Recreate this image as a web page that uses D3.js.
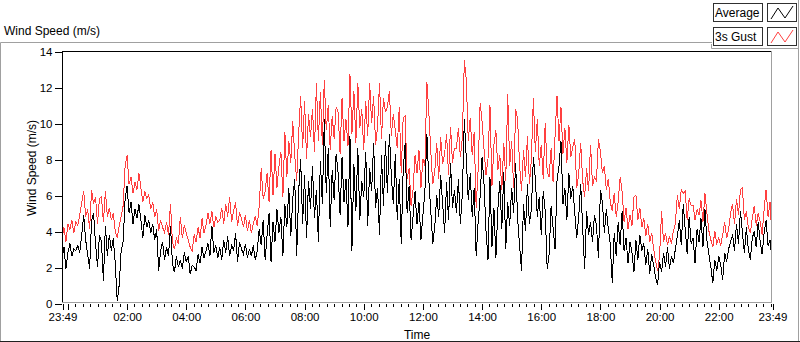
<!DOCTYPE html>
<html>
<head>
<meta charset="utf-8">
<script src="https://cdn.jsdelivr.net/npm/d3@7"></script>
<style>
  body { margin: 0; background: #fff; }
  svg { display: block; font-family: 'Liberation Sans', Arial, sans-serif; }
  .axis text { font-size: 11.5px; fill: #000; }
  .axis line { stroke: #000; shape-rendering: crispEdges; }
  .label { font-size: 12px; fill: #000; }
  .series { fill: none; stroke-width: 1; shape-rendering: crispEdges; }
</style>
</head>
<body>
<script>
// one sample every 4 minutes, starting 23:49
const stepMinutes = 4;

const average = [
  2.4, 3.1, 1.9, 2.8, 3.3, 2.6, 3.0, 2.9, 3.2, 2.8, 3.8, 4.9, 3.5, 2.7, 1.9, 4.6, 5.0, 3.3, 2.0, 3.8,
  3.4, 1.2, 4.3, 2.6, 3.8, 2.9, 3.6, 2.2, 0.1, 1.0, 2.9, 3.4, 5.8, 6.5, 5.0, 5.6, 4.4, 5.2, 4.7, 5.5,
  4.6, 3.6, 4.9, 4.2, 4.6, 3.9, 4.4, 3.5, 4.1, 1.8, 2.9, 3.4, 2.4, 3.1, 2.6, 4.3, 2.2, 1.7, 2.6, 2.0,
  2.4, 1.9, 2.8, 2.3, 2.6, 1.6, 2.1, 2.0, 1.8, 2.7, 2.2, 3.1, 2.5, 2.9, 3.3, 2.6, 4.3, 2.8, 3.2, 2.5,
  3.1, 2.4, 3.5, 2.8, 3.7, 2.6, 3.2, 2.9, 3.9, 2.3, 3.4, 3.0, 2.7, 3.3, 2.5, 3.0, 2.6, 3.2, 2.4, 2.9,
  4.1, 3.2, 4.6, 2.4, 3.8, 5.0, 2.3, 4.5, 3.4, 5.2, 3.9, 4.8, 2.6, 5.5, 4.2, 6.4, 3.7, 5.8, 6.9, 2.6,
  6.2, 8.0, 4.4, 7.1, 3.6, 6.8, 5.2, 7.6, 4.7, 6.3, 3.4, 7.9, 5.5, 10.2, 6.1, 8.6, 4.2, 7.4, 5.7, 8.3,
  7.2, 4.9, 8.1, 5.6, 6.9, 4.2, 9.3, 2.9, 7.7, 5.1, 8.6, 4.6, 6.8, 5.9, 8.4, 4.3, 7.5, 6.2, 8.9, 5.3,
  6.4, 3.8, 8.2, 5.4, 9.0, 6.1, 9.4, 7.0, 5.5, 8.3, 4.6, 6.9, 3.3, 7.4, 8.9, 5.0, 6.5, 3.5, 4.8, 6.2,
  4.4, 5.6, 3.5, 4.9, 6.2, 9.4, 6.8, 5.1, 3.3, 4.2, 6.0, 4.8, 7.1, 5.5, 3.9, 6.7, 4.6, 7.8, 5.3, 6.3,
  5.0, 6.9, 4.4, 6.1, 10.2, 8.0, 5.7, 7.2, 4.8, 6.4, 2.6, 4.5, 5.9, 8.1, 6.6, 4.0, 2.4, 7.0, 3.1, 5.3,
  2.5, 5.2, 6.8, 4.1, 7.3, 3.0, 5.6, 4.3, 6.4, 5.0, 7.8, 4.7, 3.2, 1.8, 5.5, 4.0, 6.6, 4.4, 5.2, 8.1,
  6.9, 4.8, 5.9, 3.8, 6.2, 5.1, 1.9, 2.7, 5.4, 4.2, 3.0, 6.8, 7.6, 9.0, 5.5, 6.4, 4.6, 7.2, 5.8, 6.5,
  5.0, 3.6, 4.8, 6.6, 4.2, 1.9, 5.1, 3.8, 4.5, 3.4, 4.9, 4.3, 2.5, 6.3, 5.6, 3.9, 5.2, 4.1, 3.3, 1.1,
  3.9, 2.6, 4.5, 3.2, 5.1, 2.9, 3.6, 2.2, 3.4, 2.8, 1.7, 3.5, 2.4, 3.8, 2.9, 3.3, 2.1, 3.0, 1.6, 2.7,
  2.1, 1.4, 1.0, 2.3, 1.7, 2.8, 2.0, 3.1, 1.9, 2.6, 2.2, 3.0, 3.7, 4.6, 3.2, 5.5, 4.1, 2.7, 4.8, 3.3,
  3.6, 2.2, 4.1, 3.4, 4.7, 3.1, 5.2, 3.5, 2.7, 2.0, 1.1, 2.4, 1.8, 2.6, 2.1, 1.3, 2.8, 2.3, 3.0, 3.4,
  3.8, 2.9, 4.4, 3.3, 5.1, 3.9, 2.8, 4.2, 3.0, 2.4, 3.6, 4.0, 3.1, 4.5, 3.4, 2.7, 3.9, 4.6, 3.2, 3.5, 2.4
];

const gust = [
  3.6, 4.2, 3.4, 4.4, 4.1, 4.6, 3.9, 4.5, 4.3, 4.9, 5.6, 6.2, 4.8, 5.2, 4.1, 6.3, 5.5, 5.9, 4.4, 5.8,
  5.9, 4.5, 6.2, 4.8, 5.3, 4.6, 5.0, 4.0, 3.6, 4.3, 4.8, 5.4, 7.6, 8.2, 6.6, 7.0, 6.1, 6.7, 6.3, 7.2,
  6.4, 5.6, 6.2, 5.8, 6.0, 5.2, 5.6, 4.8, 5.2, 4.0, 4.6, 4.2, 3.9, 4.5, 3.8, 5.5, 3.4, 3.0, 3.6, 3.3,
  4.8, 3.6, 4.3, 3.9, 3.5, 3.1, 2.9, 3.8, 3.4, 4.2, 3.6, 4.7, 3.9, 4.3, 5.0, 4.4, 5.1, 4.2, 4.8, 4.5,
  4.6, 5.3, 4.4, 5.5, 4.8, 5.9, 4.5, 5.1, 5.6, 4.3, 5.0, 4.7, 4.2, 4.9, 4.0, 4.6, 3.9, 4.4, 4.8, 4.3,
  5.4, 7.5, 5.8, 6.2, 7.2, 5.6, 8.5, 6.0, 8.3, 6.4, 7.6, 8.4, 5.9, 9.5, 7.0, 9.0, 7.8, 10.1, 8.2, 6.8,
  9.4, 11.5, 8.6, 11.2, 8.0, 10.5, 9.2, 10.8, 8.4, 12.2, 9.0, 11.7, 8.8, 12.4, 9.6, 11.0, 8.5, 10.4, 9.1, 10.9,
  10.6, 8.3, 11.4, 9.0, 10.2, 8.7, 12.7, 9.4, 11.8, 8.9, 12.2, 9.7, 10.8, 8.5, 11.2, 9.3, 12.2, 10.0, 11.5, 8.8,
  9.8, 12.2, 9.1, 11.4, 10.6, 10.9, 11.8, 9.3, 10.5, 9.6, 8.6, 10.9, 7.2, 10.3, 10.4, 6.9, 7.5, 5.4, 6.3, 8.2,
  7.2, 8.5, 6.4, 8.0, 7.6, 12.3, 10.6, 8.4, 6.6, 7.3, 8.9, 6.9, 9.2, 7.7, 8.3, 9.4, 7.1, 9.8, 7.8, 8.6,
  8.6, 9.7, 8.1, 9.2, 13.5, 12.4, 9.0, 10.3, 8.2, 9.5, 5.3, 7.4, 11.1, 10.1, 8.5, 7.1, 8.0, 11.0, 6.5, 8.8,
  9.6, 7.4, 8.2, 6.3, 8.9, 6.8, 11.6, 7.6, 9.0, 6.4, 10.8, 10.2, 7.7, 6.2, 8.5, 7.0, 9.3, 6.6, 8.0, 11.4,
  8.4, 10.2, 7.6, 8.8, 6.9, 10.0, 7.3, 7.0, 8.6, 6.7, 9.3, 11.5, 9.0, 10.9, 8.3, 9.7, 7.8, 9.9, 8.1, 8.7,
  9.1, 6.4, 7.2, 8.9, 6.8, 5.9, 7.5, 6.2, 8.8, 6.5, 7.0, 6.8, 9.1, 8.4, 7.2, 7.6, 6.3, 6.9, 5.6, 5.1,
  6.1, 4.8, 5.6, 7.0, 6.2, 4.5, 5.3, 4.1, 4.9, 4.3, 5.9, 6.0, 4.6, 5.3, 4.2, 4.7, 3.7, 4.4, 3.4, 3.9,
  3.0, 2.3, 1.8, 2.6, 5.1, 3.4, 3.9, 3.2, 3.7, 3.3, 4.0, 4.4, 6.0, 5.2, 6.3, 6.1, 6.2, 4.6, 5.8, 5.4,
  5.4, 4.6, 5.2, 4.9, 5.7, 4.5, 6.1, 5.0, 4.0, 3.5, 3.1, 4.0, 3.3, 3.6, 3.2, 3.8, 4.5, 3.6, 4.1, 5.0,
  5.5, 4.4, 5.8, 4.9, 6.3, 6.4, 4.6, 5.1, 4.2, 3.9, 4.7, 5.4, 4.3, 5.0, 4.5, 3.8, 5.2, 6.3, 4.8, 5.6, 3.6
];

const yTicks = [0, 2, 4, 6, 8, 10, 12, 14];
const seriesNames = ['Average', '3s Gust'];
const seriesColors = ['#000000', '#ff4040'];

let margin = {top: 51, right: 28, bottom: 39, left: 62},
  width = 800 - margin.left - margin.right,
  height = 342 - margin.top - margin.bottom;

let start = new Date(2021, 5, 1, 23, 49);
let end = d3.timeHour.offset(start, 24);
let times = average.map((d, i) => d3.timeMinute.offset(start, i * stepMinutes));

let x = d3.scaleTime().domain([start, end]).range([0, width]);
let y = d3.scaleLinear().domain([0, 14]).range([height, 0]);

let root = d3.select('body').append('svg')
  .attr('width', 800)
  .attr('height', 342);

// panel frame
root.append('path')
  .attr('d', 'M0.5,342 V42.5 H712 M798.5,48 V341.5 H0')
  .attr('fill', 'none')
  .attr('stroke', '#a0a0a0');
root.append('line')
  .attr('x1', 0).attr('x2', 800)
  .attr('y1', 341.5).attr('y2', 341.5)
  .attr('stroke', '#202020');

root.append('text')
  .attr('class', 'label')
  .attr('x', 4)
  .attr('y', 35)
  .text('Wind Speed (m/s)');

let svg = root.append('g')
  .attr('transform', `translate(${margin.left},${margin.top})`);

svg.append('clipPath')
  .attr('id', 'plot-clip')
  .append('rect')
  .attr('width', width)
  .attr('height', height);

let line = d3.line()
  .x((d, i) => x(times[i]))
  .y(d => y(d));

let plots = svg.append('g')
  .attr('clip-path', 'url(#plot-clip)');

[gust, average].forEach((values, k) => {
  plots.append('path')
    .datum(values)
    .attr('class', 'series')
    .attr('d', line)
    .attr('stroke', seriesColors[1 - k]);
});

// sunken border: dark top/left, light bottom/right
svg.append('path')
  .attr('d', `M0.5,${height} V0.5 H${width}`)
  .attr('fill', 'none')
  .attr('stroke', '#000')
  .attr('shape-rendering', 'crispEdges');
svg.append('path')
  .attr('d', `M${width - 0.5},0 V${height - 0.5} H0`)
  .attr('fill', 'none')
  .attr('stroke', '#a0a0a0')
  .attr('shape-rendering', 'crispEdges');

let y_axis = d3.axisLeft(y)
  .tickValues(yTicks)
  .tickSize(7)
  .tickPadding(2);

svg.append('g')
  .attr('class', 'y axis')
  .attr('transform', 'translate(-0.5,0.5)')
  .call(y_axis)
  .call(g => g.select('.domain').remove());

let minor_axis = d3.axisBottom(x)
  .tickValues(d3.timeMinute.every(15).range(start, end))
  .tickSize(3)
  .tickFormat('');

let major_ticks = [start].concat(d3.timeHour.every(2).range(start, end), [end]);
let fmt = d3.timeFormat('%H:%M');
let major_axis = d3.axisBottom(x)
  .tickValues(major_ticks)
  .tickSize(6)
  .tickPadding(3)
  .tickFormat(d => d.getHours() === 0 && d.getMinutes() === 0 ? '' : fmt(d));

svg.append('g')
  .attr('class', 'x axis minor')
  .attr('transform', `translate(0.5,${height + 1})`)
  .call(minor_axis)
  .call(g => g.select('.domain').remove());

svg.append('g')
  .attr('class', 'x axis')
  .attr('transform', `translate(0.5,${height + 1})`)
  .call(major_axis)
  .call(g => g.select('.domain').remove());

svg.append('text')
  .attr('class', 'label')
  .attr('x', width / 2)
  .attr('y', height + 36)
  .style('text-anchor', 'middle')
  .text('Time');

svg.append('text')
  .attr('class', 'label')
  .attr('transform', 'rotate(-90)')
  .attr('x', -117)
  .attr('y', -26)
  .style('text-anchor', 'middle')
  .text('Wind Speed (m/s)');

// legend
let legend = root.append('g');
legend.append('path')
  .attr('d', 'M711.5,44 V48.5 H798.5 V0')
  .attr('fill', 'none')
  .attr('stroke', '#a0a0a0');

let entry = legend.selectAll('.entry')
  .data(seriesNames)
  .enter().append('g')
  .attr('class', 'entry')
  .attr('transform', (d, i) => `translate(713,${3 + i * 24})`);

entry.append('rect')
  .attr('x', 0.5).attr('y', 0.5)
  .attr('width', 49).attr('height', 18)
  .attr('fill', '#fff')
  .attr('stroke', '#303030');

entry.append('text')
  .attr('class', 'label')
  .attr('x', 2)
  .attr('y', 14)
  .text(d => d);

entry.append('rect')
  .attr('x', 54.5).attr('y', 0.5)
  .attr('width', 29).attr('height', 18)
  .attr('fill', '#fff')
  .attr('stroke', '#303030');

entry.append('path')
  .attr('d', 'M58,16 L65,5 L72,15 L80,3')
  .attr('fill', 'none')
  .attr('stroke', (d, i) => seriesColors[i]);
</script>
</body>
</html>
